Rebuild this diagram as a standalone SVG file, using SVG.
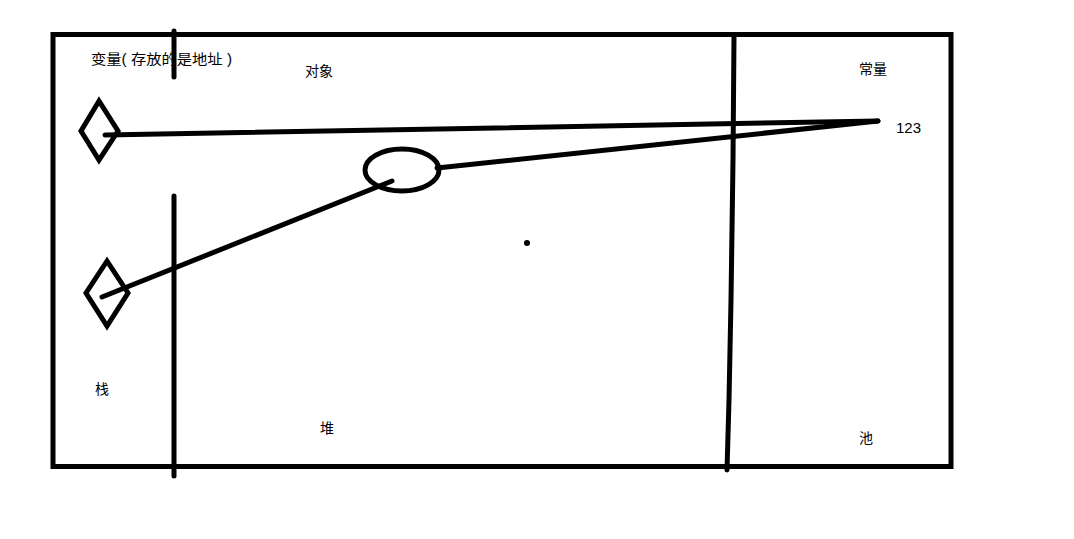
<svg xmlns="http://www.w3.org/2000/svg" width="1074" height="539" viewBox="0 0 1074 539">
<style>
.s{fill:none;stroke:#000;stroke-width:5;stroke-linecap:round;stroke-linejoin:miter}
.t{font-family:"Liberation Sans","Noto Sans CJK SC",sans-serif;font-size:14px;fill:#000}
</style>
<rect width="1074" height="539" fill="#fff"/>
<g id="frame">
<rect class="s" x="53" y="34.5" width="898" height="432" stroke-linecap="butt"/>
<line class="s" x1="174" y1="31" x2="174" y2="77" stroke-linecap="butt"/>
<line class="s" x1="174" y1="196" x2="174" y2="476" stroke-linecap="butt"/>
<polyline class="s" points="734,36 733,160 731,300 729,400 727,470" stroke-linecap="butt"/>
</g>
<g id="labels">
<text class="t" x="91" y="64" textLength="141" lengthAdjust="spacingAndGlyphs">变量( 存放的是地址 )</text>
<text class="t" x="305" y="76">对象</text>
<text class="t" x="859" y="74">常量</text>
<text class="t" x="95" y="394">栈</text>
<text class="t" x="320" y="433">堆</text>
<text class="t" x="859" y="443">池</text>
</g>
<g id="var1">
<polygon class="s" points="99,101 81,131 99,160 118,131"/>
</g>
<g id="var2">
<polygon class="s" points="107,261 86,293 107,326 128,293"/>
</g>
<g id="object">
<ellipse class="s" cx="402" cy="170" rx="37" ry="21"/>
</g>
<g id="constant">
<text class="t" x="896" y="133" style="font-size:15px">123</text>
</g>
<g id="dot">
<circle cx="527" cy="243" r="3" fill="#000"/>
</g>
<g id="connectors">
<line class="s" x1="105" y1="135" x2="878" y2="121"/>
<line class="s" x1="102" y1="297" x2="392" y2="181"/>
<line class="s" x1="437" y1="168" x2="878" y2="121"/>
</g>
</svg>
